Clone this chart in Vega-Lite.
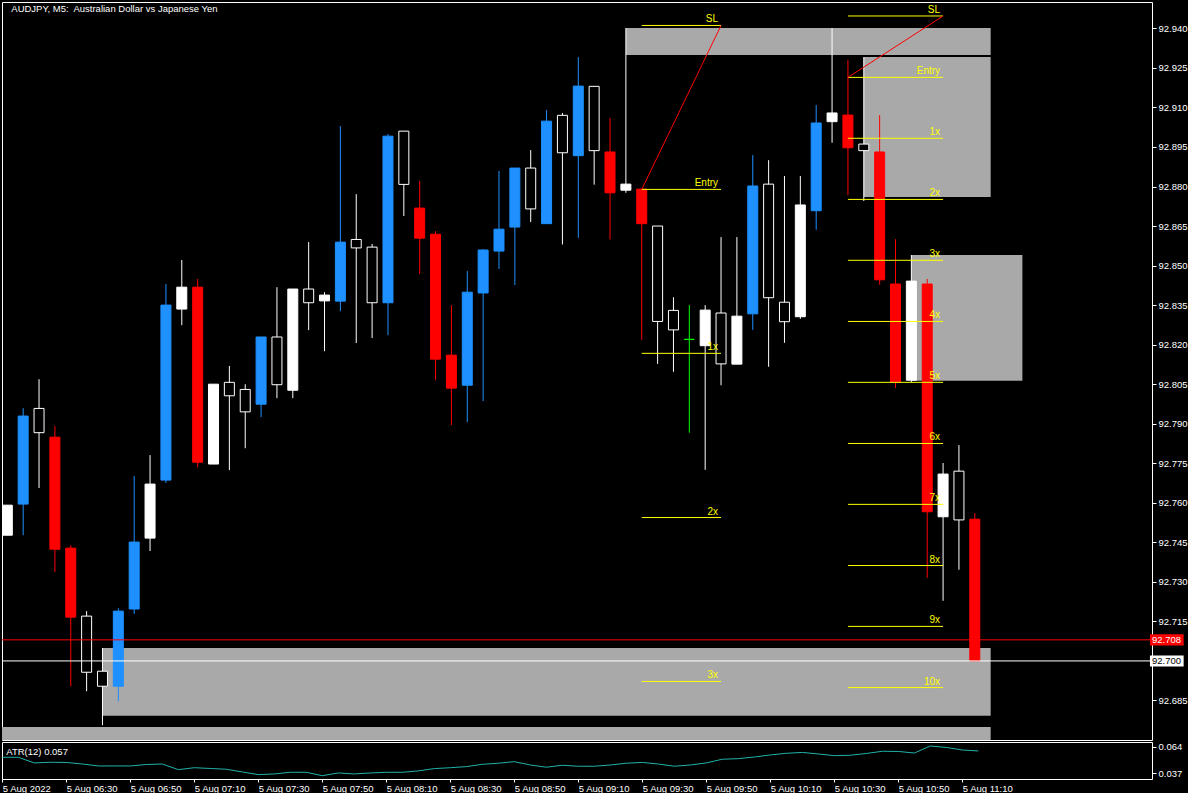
{
"$schema": "https://vega.github.io/schema/vega-lite/v6.json",
"background": "#000000",
"padding": {"left": -1, "top": 1, "right": 0, "bottom": 0},
"bounds": "flush",
"config": {
  "view": {"stroke": "#FFFFFF", "strokeWidth": 1},
  "font": "Liberation Sans"
},
"datasets": {
  "candles": [
    {"t":"2022-08-05T06:10:00Z","o":92.7477,"h":92.7591,"l":92.7477,"c":92.7591,"kind":"white","atr":0.0534},
    {"t":"2022-08-05T06:15:00Z","o":92.7595,"h":92.7959,"l":92.7477,"c":92.7929,"kind":"blue","atr":0.0534},
    {"t":"2022-08-05T06:20:00Z","o":92.7866,"h":92.8069,"l":92.7656,"c":92.7958,"kind":"hollow","atr":0.0476},
    {"t":"2022-08-05T06:25:00Z","o":92.7849,"h":92.7891,"l":92.7337,"c":92.7424,"kind":"red","atr":0.0483},
    {"t":"2022-08-05T06:30:00Z","o":92.7428,"h":92.7439,"l":92.6904,"c":92.7166,"kind":"red","atr":0.0481},
    {"t":"2022-08-05T06:35:00Z","o":92.6957,"h":92.7189,"l":92.6885,"c":92.7170,"kind":"hollow","atr":0.0465},
    {"t":"2022-08-05T06:40:00Z","o":92.6904,"h":92.7049,"l":92.6756,"c":92.6961,"kind":"hollow","atr":0.0445},
    {"t":"2022-08-05T06:45:00Z","o":92.6904,"h":92.7200,"l":92.6847,"c":92.7189,"kind":"blue","atr":0.0445},
    {"t":"2022-08-05T06:50:00Z","o":92.7197,"h":92.7701,"l":92.7178,"c":92.7451,"kind":"blue","atr":0.0445},
    {"t":"2022-08-05T06:55:00Z","o":92.7466,"h":92.7781,"l":92.7417,"c":92.7671,"kind":"white","atr":0.0460},
    {"t":"2022-08-05T07:00:00Z","o":92.7686,"h":92.8430,"l":92.7675,"c":92.8350,"kind":"blue","atr":0.0465},
    {"t":"2022-08-05T07:05:00Z","o":92.8335,"h":92.8521,"l":92.8274,"c":92.8418,"kind":"white","atr":0.0407},
    {"t":"2022-08-05T07:10:00Z","o":92.8418,"h":92.8449,"l":92.7735,"c":92.7754,"kind":"red","atr":0.0427},
    {"t":"2022-08-05T07:15:00Z","o":92.7747,"h":92.8050,"l":92.7747,"c":92.8050,"kind":"white","atr":0.0419},
    {"t":"2022-08-05T07:20:00Z","o":92.8006,"h":92.8119,"l":92.7724,"c":92.8057,"kind":"hollow","atr":0.0411},
    {"t":"2022-08-05T07:25:00Z","o":92.7945,"h":92.8050,"l":92.7807,"c":92.8030,"kind":"hollow","atr":0.0383},
    {"t":"2022-08-05T07:30:00Z","o":92.7974,"h":92.8229,"l":92.7925,"c":92.8229,"kind":"blue","atr":0.0356},
    {"t":"2022-08-05T07:35:00Z","o":92.8048,"h":92.8418,"l":92.7997,"c":92.8229,"kind":"hollow","atr":0.0363},
    {"t":"2022-08-05T07:40:00Z","o":92.8027,"h":92.8411,"l":92.7997,"c":92.8411,"kind":"white","atr":0.0380},
    {"t":"2022-08-05T07:45:00Z","o":92.8359,"h":92.8589,"l":92.8255,"c":92.8411,"kind":"hollow","atr":0.0380},
    {"t":"2022-08-05T07:50:00Z","o":92.8366,"h":92.8399,"l":92.8175,"c":92.8388,"kind":"white","atr":0.0345},
    {"t":"2022-08-05T07:55:00Z","o":92.8365,"h":92.9029,"l":92.8327,"c":92.8589,"kind":"blue","atr":0.0373},
    {"t":"2022-08-05T08:00:00Z","o":92.8567,"h":92.8771,"l":92.8206,"c":92.8599,"kind":"hollow","atr":0.0363},
    {"t":"2022-08-05T08:05:00Z","o":92.8359,"h":92.8582,"l":92.8225,"c":92.8570,"kind":"hollow","atr":0.0373},
    {"t":"2022-08-05T08:10:00Z","o":92.8359,"h":92.8999,"l":92.8236,"c":92.8991,"kind":"blue","atr":0.0380},
    {"t":"2022-08-05T08:15:00Z","o":92.8808,"h":92.9010,"l":92.8688,"c":92.9010,"kind":"hollow","atr":0.0380},
    {"t":"2022-08-05T08:20:00Z","o":92.8718,"h":92.8821,"l":92.8468,"c":92.8604,"kind":"red","atr":0.0394},
    {"t":"2022-08-05T08:25:00Z","o":92.8619,"h":92.8631,"l":92.8065,"c":92.8145,"kind":"red","atr":0.0418},
    {"t":"2022-08-05T08:30:00Z","o":92.8160,"h":92.8350,"l":92.7895,"c":92.8035,"kind":"red","atr":0.0427},
    {"t":"2022-08-05T08:35:00Z","o":92.8046,"h":92.8479,"l":92.7906,"c":92.8399,"kind":"blue","atr":0.0438},
    {"t":"2022-08-05T08:40:00Z","o":92.8396,"h":92.8563,"l":92.7986,"c":92.8559,"kind":"blue","atr":0.0462},
    {"t":"2022-08-05T08:45:00Z","o":92.8555,"h":92.8859,"l":92.8487,"c":92.8638,"kind":"blue","atr":0.0473},
    {"t":"2022-08-05T08:50:00Z","o":92.8646,"h":92.8870,"l":92.8426,"c":92.8870,"kind":"blue","atr":0.0489},
    {"t":"2022-08-05T08:55:00Z","o":92.8715,"h":92.8938,"l":92.8665,"c":92.8870,"kind":"hollow","atr":0.0455},
    {"t":"2022-08-05T09:00:00Z","o":92.8659,"h":92.9090,"l":92.8659,"c":92.9048,"kind":"blue","atr":0.0432},
    {"t":"2022-08-05T09:05:00Z","o":92.8928,"h":92.9079,"l":92.8580,"c":92.9070,"kind":"hollow","atr":0.0452},
    {"t":"2022-08-05T09:10:00Z","o":92.8917,"h":92.9291,"l":92.8605,"c":92.9181,"kind":"blue","atr":0.0442},
    {"t":"2022-08-05T09:15:00Z","o":92.8936,"h":92.9180,"l":92.8807,"c":92.9180,"kind":"hollow","atr":0.0442},
    {"t":"2022-08-05T09:20:00Z","o":92.8931,"h":92.9060,"l":92.8599,"c":92.8776,"kind":"red","atr":0.0455},
    {"t":"2022-08-05T09:25:00Z","o":92.8786,"h":92.9401,"l":92.8776,"c":92.8809,"kind":"white","atr":0.0473},
    {"t":"2022-08-05T09:30:00Z","o":92.8790,"h":92.8790,"l":92.8218,"c":92.8659,"kind":"red","atr":0.0481},
    {"t":"2022-08-05T09:35:00Z","o":92.8288,"h":92.8650,"l":92.8127,"c":92.8650,"kind":"hollow","atr":0.0465},
    {"t":"2022-08-05T09:40:00Z","o":92.8256,"h":92.8380,"l":92.8097,"c":92.8330,"kind":"hollow","atr":0.0442},
    {"t":"2022-08-05T09:45:00Z","o":92.8220,"h":92.8350,"l":92.7866,"c":92.8220,"kind":"doji","atr":0.0455},
    {"t":"2022-08-05T09:50:00Z","o":92.8196,"h":92.8350,"l":92.7725,"c":92.8331,"kind":"white","atr":0.0476},
    {"t":"2022-08-05T09:55:00Z","o":92.8127,"h":92.8608,"l":92.8046,"c":92.8320,"kind":"hollow","atr":0.0514},
    {"t":"2022-08-05T10:00:00Z","o":92.8126,"h":92.8608,"l":92.8126,"c":92.8308,"kind":"white","atr":0.0520},
    {"t":"2022-08-05T10:05:00Z","o":92.8317,"h":92.8919,"l":92.8256,"c":92.8802,"kind":"blue","atr":0.0537},
    {"t":"2022-08-05T10:10:00Z","o":92.8378,"h":92.8900,"l":92.8116,"c":92.8809,"kind":"hollow","atr":0.0558},
    {"t":"2022-08-05T10:15:00Z","o":92.8287,"h":92.8840,"l":92.8207,"c":92.8361,"kind":"hollow","atr":0.0575},
    {"t":"2022-08-05T10:20:00Z","o":92.8306,"h":92.8840,"l":92.8298,"c":92.8730,"kind":"white","atr":0.0584},
    {"t":"2022-08-05T10:25:00Z","o":92.8708,"h":92.9109,"l":92.8636,"c":92.9041,"kind":"blue","atr":0.0568},
    {"t":"2022-08-05T10:30:00Z","o":92.9046,"h":92.9401,"l":92.8966,"c":92.9079,"kind":"white","atr":0.0551},
    {"t":"2022-08-05T10:35:00Z","o":92.9071,"h":92.9280,"l":92.8767,"c":92.8947,"kind":"red","atr":0.0555},
    {"t":"2022-08-05T10:40:00Z","o":92.8936,"h":92.9291,"l":92.8745,"c":92.8961,"kind":"hollow","atr":0.0573},
    {"t":"2022-08-05T10:45:00Z","o":92.8931,"h":92.9071,"l":92.8427,"c":92.8446,"kind":"red","atr":0.0596},
    {"t":"2022-08-05T10:50:00Z","o":92.8430,"h":92.8600,"l":92.8036,"c":92.8058,"kind":"red","atr":0.0594},
    {"t":"2022-08-05T10:55:00Z","o":92.8065,"h":92.8540,"l":92.8058,"c":92.8441,"kind":"white","atr":0.0578},
    {"t":"2022-08-05T11:00:00Z","o":92.8430,"h":92.8449,"l":92.7315,"c":92.7566,"kind":"red","atr":0.0650},
    {"t":"2022-08-05T11:05:00Z","o":92.7547,"h":92.7751,"l":92.7228,"c":92.7709,"kind":"white","atr":0.0635},
    {"t":"2022-08-05T11:10:00Z","o":92.7535,"h":92.7819,"l":92.7346,"c":92.7720,"kind":"hollow","atr":0.0609},
    {"t":"2022-08-05T11:15:00Z","o":92.7538,"h":92.7561,"l":92.7000,"c":92.7000,"kind":"red","atr":0.0599}
  ],
  "zones": [
    {"t0":"2022-08-05T09:25:00Z","t1":"2022-08-05T11:20:00Z","p0":92.9299,"p1":92.9401},
    {"t0":"2022-08-05T10:40:00Z","t1":"2022-08-05T11:20:00Z","p0":92.8760,"p1":92.9291},
    {"t0":"2022-08-05T10:55:00Z","t1":"2022-08-05T11:30:00Z","p0":92.8063,"p1":92.8540},
    {"t0":"2022-08-05T06:40:00Z","t1":"2022-08-05T11:20:00Z","p0":92.6792,"p1":92.7049},
    {"t0":"2022-08-05T05:20:00Z","t1":"2022-08-05T11:20:00Z","p0":92.6600,"p1":92.6749}
  ],
  "levels": [
    {"t0":"2022-08-05T09:30:00Z","t1":"2022-08-05T09:55:00Z","p":92.9411,"label":"SL"},
    {"t0":"2022-08-05T09:30:00Z","t1":"2022-08-05T09:55:00Z","p":92.8789,"label":"Entry"},
    {"t0":"2022-08-05T09:30:00Z","t1":"2022-08-05T09:55:00Z","p":92.8167,"label":"1x"},
    {"t0":"2022-08-05T09:30:00Z","t1":"2022-08-05T09:55:00Z","p":92.7544,"label":"2x"},
    {"t0":"2022-08-05T09:30:00Z","t1":"2022-08-05T09:55:00Z","p":92.6922,"label":"3x"},
    {"t0":"2022-08-05T10:35:00Z","t1":"2022-08-05T11:05:00Z","p":92.9447,"label":"SL"},
    {"t0":"2022-08-05T10:35:00Z","t1":"2022-08-05T11:05:00Z","p":92.9214,"label":"Entry"},
    {"t0":"2022-08-05T10:35:00Z","t1":"2022-08-05T11:05:00Z","p":92.8983,"label":"1x"},
    {"t0":"2022-08-05T10:35:00Z","t1":"2022-08-05T11:05:00Z","p":92.8751,"label":"2x"},
    {"t0":"2022-08-05T10:35:00Z","t1":"2022-08-05T11:05:00Z","p":92.8520,"label":"3x"},
    {"t0":"2022-08-05T10:35:00Z","t1":"2022-08-05T11:05:00Z","p":92.8288,"label":"4x"},
    {"t0":"2022-08-05T10:35:00Z","t1":"2022-08-05T11:05:00Z","p":92.8057,"label":"5x"},
    {"t0":"2022-08-05T10:35:00Z","t1":"2022-08-05T11:05:00Z","p":92.7825,"label":"6x"},
    {"t0":"2022-08-05T10:35:00Z","t1":"2022-08-05T11:05:00Z","p":92.7594,"label":"7x"},
    {"t0":"2022-08-05T10:35:00Z","t1":"2022-08-05T11:05:00Z","p":92.7362,"label":"8x"},
    {"t0":"2022-08-05T10:35:00Z","t1":"2022-08-05T11:05:00Z","p":92.7131,"label":"9x"},
    {"t0":"2022-08-05T10:35:00Z","t1":"2022-08-05T11:05:00Z","p":92.6899,"label":"10x"}
  ],
  "diag": [
    {"g":"a","t":"2022-08-05T09:30:00Z","p":92.8789},
    {"g":"a","t":"2022-08-05T09:55:00Z","p":92.9411},
    {"g":"b","t":"2022-08-05T10:35:00Z","p":92.9214},
    {"g":"b","t":"2022-08-05T11:05:00Z","p":92.9447}
  ]
},
"spacing": 2,
"vconcat": [
  {
    "width": 1150,
    "height": 738,
    "encoding": {
      "y": {"type": "quantitative", "scale": {"domain": [92.670, 92.950], "zero": false, "nice": false},
            "axis": {"orient": "right", "title": null, "grid": false, "domain": false, "values": [92.940,92.925,92.910,92.895,92.880,92.865,92.850,92.835,92.820,92.805,92.790,92.775,92.760,92.745,92.730,92.715,92.685], "format": ".3f", "labelPadding": 2, "tickSize": 4, "tickColor": "#FFFFFF", "labelColor": "#FFFFFF", "labelFont": "Liberation Sans", "labelFontSize": 9.5, "zindex": 1}}
    },
    "layer": [
      {
        "data": {"name": "zones"},
        "mark": {"type": "rect", "color": "#A9A9A9", "clip": true},
        "encoding": {
          "x": {"field": "t0", "type": "temporal", "axis": null, "scale": {"type": "utc", "domain": [{"year":2022,"month":8,"date":5,"hours":6,"minutes":9,"seconds":54,"utc":true},{"year":2022,"month":8,"date":5,"hours":12,"minutes":9,"seconds":17,"utc":true}]}},
          "x2": {"field": "t1"},
          "y": {"field": "p0"},
          "y2": {"field": "p1"}
        }
      },
      {
        "data": {"name": "candles"},
        "mark": {"type": "rule", "clip": true, "strokeWidth": 1},
        "encoding": {
          "x": {"field": "t", "type": "temporal"},
          "y": {"field": "l"},
          "y2": {"field": "h"},
          "color": {"field": "kind", "type": "nominal", "legend": null, "scale": {"domain": ["blue","red","white","hollow","doji"], "range": ["#1E90FF","#FF0000","#FFFFFF","#FFFFFF","#00FF00"]}}
        }
      },
      {
        "data": {"name": "candles"},
        "mark": {"type": "bar", "clip": true, "size": 10, "strokeWidth": 1},
        "encoding": {
          "x": {"field": "t", "type": "temporal"},
          "y": {"field": "o"},
          "y2": {"field": "c"},
          "fill": {"field": "kind", "type": "nominal", "legend": null, "scale": {"domain": ["blue","red","white","hollow","doji"], "range": ["#1E90FF","#FF0000","#FFFFFF","#000000","#00FF00"]}},
          "stroke": {"field": "kind", "type": "nominal", "legend": null, "scale": {"domain": ["blue","red","white","hollow","doji"], "range": ["#1E90FF","#FF0000","#FFFFFF","#FFFFFF","#00FF00"]}}
        }
      },
      {
        "data": {"values": [{"p": 92.708}]},
        "mark": {"type": "rule", "color": "#FF0000", "strokeWidth": 1},
        "encoding": {"y": {"field": "p"}}
      },
      {
        "data": {"values": [{"p": 92.700}]},
        "mark": {"type": "rule", "color": "#FFFFFF", "strokeWidth": 1},
        "encoding": {"y": {"field": "p"}}
      },
      {
        "data": {"name": "levels"},
        "mark": {"type": "rule", "color": "#FFFF00", "strokeWidth": 1},
        "encoding": {
          "x": {"field": "t0", "type": "temporal"},
          "x2": {"field": "t1"},
          "y": {"field": "p"}
        }
      },
      {
        "data": {"name": "diag"},
        "mark": {"type": "line", "color": "#FF0000", "strokeWidth": 1},
        "encoding": {
          "x": {"field": "t", "type": "temporal"},
          "y": {"field": "p"},
          "detail": {"field": "g", "type": "nominal"}
        }
      },
      {
        "data": {"name": "levels"},
        "mark": {"type": "text", "color": "#FFFF00", "align": "right", "baseline": "bottom", "dx": -3, "dy": -1, "fontSize": 10, "font": "Liberation Sans"},
        "encoding": {
          "x": {"field": "t1", "type": "temporal"},
          "y": {"field": "p"},
          "text": {"field": "label"}
        }
      },
      {
        "data": {"values": [{"t": "2022-08-05T06:10:00Z", "p": 92.9473, "txt": "AUDJPY, M5:\u00a0 Australian Dollar vs Japanese Yen"}]},
        "mark": {"type": "text", "color": "#FFFFFF", "align": "left", "baseline": "middle", "dx": 4, "fontSize": 9.5, "font": "Liberation Sans"},
        "encoding": {
          "x": {"field": "t", "type": "temporal"},
          "y": {"field": "p"},
          "text": {"field": "txt"}
        }
      },
      {
        "data": {"values": [{"label":"92.708","p":92.708,"p0":92.7059,"p1":92.7101,"t0":"2022-08-05T12:10:13Z","t1":"2022-08-05T12:20:50Z"}]},
        "layer": [
          {"mark": {"type": "rect", "color": "#FF0000"},
           "encoding": {"x": {"field": "t0", "type": "temporal"}, "x2": {"field": "t1"}, "y": {"field": "p0"}, "y2": {"field": "p1"}}},
          {"mark": {"type": "text", "color": "#FFFFFF", "align": "left", "baseline": "middle", "dx": 2, "fontSize": 9.5, "font": "Liberation Sans"},
           "encoding": {"x": {"field": "t0", "type": "temporal"}, "y": {"field": "p"}, "text": {"field": "label"}}}
        ]
      },
      {
        "data": {"values": [{"label":"92.700","p":92.700,"p0":92.6979,"p1":92.7021,"t0":"2022-08-05T12:10:13Z","t1":"2022-08-05T12:20:50Z"}]},
        "layer": [
          {"mark": {"type": "rect", "color": "#FFFFFF"},
           "encoding": {"x": {"field": "t0", "type": "temporal"}, "x2": {"field": "t1"}, "y": {"field": "p0"}, "y2": {"field": "p1"}}},
          {"mark": {"type": "text", "color": "#000000", "align": "left", "baseline": "middle", "dx": 2, "fontSize": 9.5, "font": "Liberation Sans"},
           "encoding": {"x": {"field": "t0", "type": "temporal"}, "y": {"field": "p"}, "text": {"field": "label"}}}
        ]
      }
    ]
  },
  {
    "width": 1150,
    "height": 37,
    "encoding": {
      "x": {"field": "t", "type": "temporal", "scale": {"type": "utc", "domain": [{"year":2022,"month":8,"date":5,"hours":6,"minutes":9,"seconds":54,"utc":true},{"year":2022,"month":8,"date":5,"hours":12,"minutes":9,"seconds":17,"utc":true}]},
            "axis": {"title": null, "grid": false, "domain": false, "values": [
              {"year":2022,"month":8,"date":5,"hours":6,"minutes":10,"utc":true},
              {"year":2022,"month":8,"date":5,"hours":6,"minutes":30,"utc":true},
              {"year":2022,"month":8,"date":5,"hours":6,"minutes":50,"utc":true},
              {"year":2022,"month":8,"date":5,"hours":7,"minutes":10,"utc":true},
              {"year":2022,"month":8,"date":5,"hours":7,"minutes":30,"utc":true},
              {"year":2022,"month":8,"date":5,"hours":7,"minutes":50,"utc":true},
              {"year":2022,"month":8,"date":5,"hours":8,"minutes":10,"utc":true},
              {"year":2022,"month":8,"date":5,"hours":8,"minutes":30,"utc":true},
              {"year":2022,"month":8,"date":5,"hours":8,"minutes":50,"utc":true},
              {"year":2022,"month":8,"date":5,"hours":9,"minutes":10,"utc":true},
              {"year":2022,"month":8,"date":5,"hours":9,"minutes":30,"utc":true},
              {"year":2022,"month":8,"date":5,"hours":9,"minutes":50,"utc":true},
              {"year":2022,"month":8,"date":5,"hours":10,"minutes":10,"utc":true},
              {"year":2022,"month":8,"date":5,"hours":10,"minutes":30,"utc":true},
              {"year":2022,"month":8,"date":5,"hours":10,"minutes":50,"utc":true},
              {"year":2022,"month":8,"date":5,"hours":11,"minutes":10,"utc":true}
            ],
            "labelExpr": "utchours(datum.value) == 6 && utcminutes(datum.value) == 10 ? '5 Aug 2022' : utcFormat(datum.value, '%-d %b %H:%M')",
            "labelAlign": "left", "labelBaseline": "top", "labelPadding": 1, "labelFlush": false, "labelOverlap": false, "labelOffset": 0,
            "tickSize": 3, "tickColor": "#FFFFFF", "labelColor": "#FFFFFF", "labelFont": "Liberation Sans", "labelFontSize": 9.5, "zindex": 1}},
      "y": {"type": "quantitative", "scale": {"domain": [0.0311, 0.0691], "zero": false, "nice": false},
            "axis": {"orient": "right", "title": null, "grid": false, "domain": false, "values": [0.037, 0.064], "format": ".3f", "labelPadding": 2, "tickSize": 4, "tickColor": "#FFFFFF", "labelColor": "#FFFFFF", "labelFont": "Liberation Sans", "labelFontSize": 9.5, "zindex": 1}}
    },
    "layer": [
      {
        "data": {"name": "candles"},
        "mark": {"type": "line", "color": "#20B2AA", "strokeWidth": 1},
        "encoding": {"y": {"field": "atr"}}
      },
      {
        "data": {"values": [{"t": "2022-08-05T06:10:00Z", "v": 0.0588, "txt": "ATR(12) 0.057"}]},
        "mark": {"type": "text", "color": "#FFFFFF", "align": "left", "baseline": "middle", "dx": 4, "fontSize": 9.5, "font": "Liberation Sans"},
        "encoding": {"y": {"field": "v"}, "text": {"field": "txt"}}
      }
    ]
  }
]
}
